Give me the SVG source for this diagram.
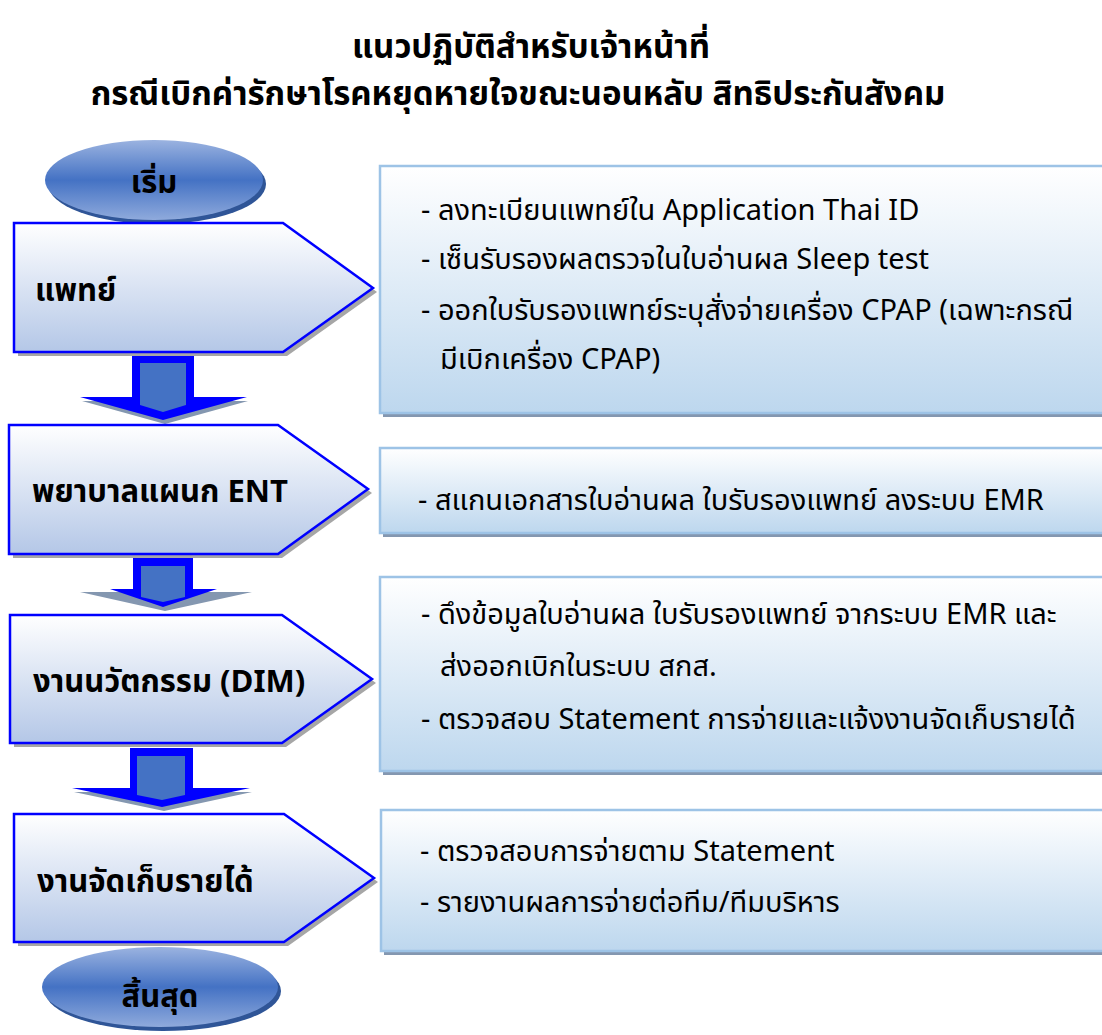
<svg xmlns="http://www.w3.org/2000/svg" width="1102" height="1035" viewBox="0 0 1102 1035">
<defs>
<linearGradient id="gPent" x1="0" y1="0" x2="0" y2="1">
<stop offset="0" stop-color="#FFFFFF"/><stop offset="1" stop-color="#B4C7E7"/>
</linearGradient>
<linearGradient id="gBox" x1="0" y1="0" x2="0" y2="1">
<stop offset="0" stop-color="#FFFFFF"/><stop offset="1" stop-color="#BDD7EE"/>
</linearGradient>
<linearGradient id="gEll" x1="0" y1="0" x2="0" y2="1">
<stop offset="0" stop-color="#9BB3E0"/><stop offset="0.5" stop-color="#4472C4"/><stop offset="1" stop-color="#8FAADC"/>
</linearGradient>
<style>
.pent{fill:url(#gPent);stroke:#0000FF;stroke-width:2.5}
.pshadow{fill:#A6A6A6}
.box{fill:url(#gBox);stroke:#9DC3E6;stroke-width:2.5}
.bshadow{fill:#8497B0}
.ell{fill:url(#gEll)}
.eshadow{fill:#2F5597}
.arrOut{fill:#0000FF}
.arrIn{fill:#4472C4}
.arrSh{fill:#8497B0}
text{font-family:"Noto Sans Thai","Noto Sans","DejaVu Sans",sans-serif;fill:#000}
.title{font-size:33px;font-weight:bold;text-anchor:middle}
.lbl{font-size:31px;font-weight:bold}
.term{font-size:31px;font-weight:bold;text-anchor:middle}
.desc{font-size:29px}
</style>
</defs>
<rect width="1102" height="1035" fill="#FFFFFF"/>
<g id="title">
<text class="title" x="531" y="58">แนวปฏิบัติสำหรับเจ้าหน้าที่</text>
<text class="title" x="518" y="105">กรณีเบิกค่ารักษาโรคหยุดหายใจขณะนอนหลับ สิทธิประกันสังคม</text>
</g>
<g id="connectors">
<g id="arrow1">
<polygon class="arrSh" points="82,401 248,401 165,424"/>
<polygon class="arrOut" points="132,355 194,355 194,397 247,397 163,420 80,397 132,397"/>
<polygon class="arrIn" points="140,363 186,363 186,405 163,412 140,405"/>
</g>
<g id="arrow2">
<polygon class="arrSh" points="80,592 252,592 165,611"/>
<polygon class="arrOut" points="133,558 193,558 193,589 217,589 163,607 110,589 133,589"/>
<polygon class="arrIn" points="141,566 185,566 185,597 163,602 141,597"/>
</g>
<g id="arrow3">
<polygon class="arrSh" points="74,792 252,792 164,811"/>
<polygon class="arrOut" points="130,748 193,748 193,788 250,788 162,807 72,788 130,788"/>
<polygon class="arrIn" points="137,756 185,756 185,795 162,800 137,795"/>
</g>
</g>
<g id="start">
<ellipse class="eshadow" cx="157" cy="184" rx="109" ry="40"/>
<ellipse class="ell" cx="154" cy="180" rx="109" ry="40"/>
<text class="term" x="154" y="193">เริ่ม</text>
</g>
<g id="node-doctor">
<polygon class="pshadow" points="18,227 287,227 377,292 287,356 18,356"/>
<polygon class="pent" points="14,223 283,223 373,288 283,352 14,352"/>
<text class="lbl" x="35" y="301">แพทย์</text>
</g>
<g id="box-doctor">
<rect class="bshadow" x="383" y="169" width="730" height="248"/>
<rect class="box" x="380" y="166" width="730" height="247"/>
<text class="desc" x="421" y="220">- ลงทะเบียนแพทย์ใน Application Thai ID</text>
<text class="desc" x="421" y="269">- เซ็นรับรองผลตรวจในใบอ่านผล Sleep test</text>
<text class="desc" x="421" y="320">- ออกใบรับรองแพทย์ระบุสั่งจ่ายเครื่อง CPAP (เฉพาะกรณี</text>
<text class="desc" x="440" y="369">มีเบิกเครื่อง CPAP)</text>
</g>
<g id="node-ent">
<polygon class="pshadow" points="13,429 282,429 372,493 282,558 13,558"/>
<polygon class="pent" points="9,425 278,425 368,489 278,554 9,554"/>
<text class="lbl" x="32" y="502">พยาบาลแผนก ENT</text>
</g>
<g id="box-ent">
<rect class="bshadow" x="383" y="452" width="730" height="85"/>
<rect class="box" x="380" y="448" width="730" height="85"/>
<text class="desc" x="418" y="510">- สแกนเอกสารใบอ่านผล ใบรับรองแพทย์ ลงระบบ EMR</text>
</g>
<g id="node-dim">
<polygon class="pshadow" points="14,619 286,619 376,683 286,747 14,747"/>
<polygon class="pent" points="10,615 282,615 372,679 282,743 10,743"/>
<text class="lbl" x="33" y="692">งานนวัตกรรม (DIM)</text>
</g>
<g id="box-dim">
<rect class="bshadow" x="383" y="581" width="730" height="194"/>
<rect class="box" x="380" y="577" width="730" height="194"/>
<text class="desc" x="421" y="624">- ดึงข้อมูลใบอ่านผล ใบรับรองแพทย์ จากระบบ EMR และ</text>
<text class="desc" x="440" y="676">ส่งออกเบิกในระบบ สกส.</text>
<text class="desc" x="421" y="729">- ตรวจสอบ Statement การจ่ายและแจ้งงานจัดเก็บรายได้</text>
</g>
<g id="node-revenue">
<polygon class="pshadow" points="18,818 288,818 378,882 288,946 18,946"/>
<polygon class="pent" points="14,814 284,814 374,878 284,942 14,942"/>
<text class="lbl" x="37" y="892">งานจัดเก็บรายได้</text>
</g>
<g id="box-revenue">
<rect class="bshadow" x="384" y="814" width="730" height="141"/>
<rect class="box" x="381" y="810" width="730" height="141"/>
<text class="desc" x="420" y="861">- ตรวจสอบการจ่ายตาม Statement</text>
<text class="desc" x="420" y="912">- รายงานผลการจ่ายต่อทีม/ทีมบริหาร</text>
</g>
<g id="end">
<ellipse class="eshadow" cx="163" cy="991" rx="118" ry="40"/>
<ellipse class="ell" cx="160" cy="987" rx="118" ry="40"/>
<text class="term" x="160" y="1007">สิ้นสุด</text>
</g>
</svg>
